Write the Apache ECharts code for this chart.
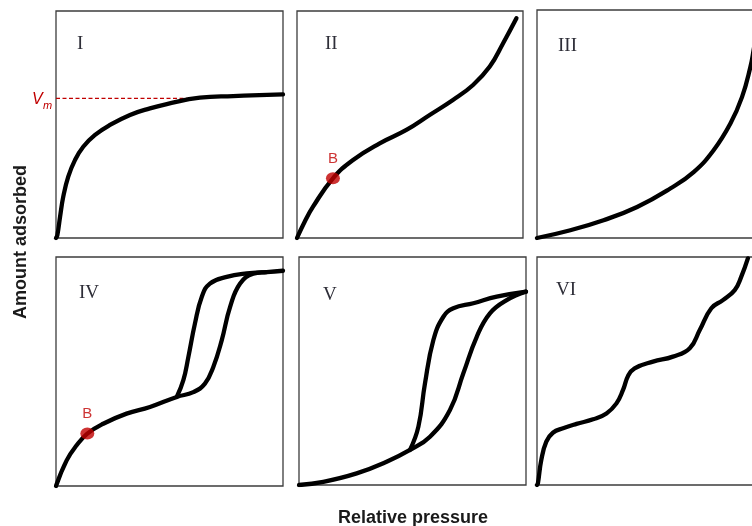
<!DOCTYPE html>
<html>
<head>
<meta charset="utf-8">
<script src="https://cdn.jsdelivr.net/npm/echarts@6/dist/echarts.min.js"></script>
<style>
  html, body { margin: 0; padding: 0; background: #fff; }
  #chart { width: 752px; height: 526px; }
</style>
</head>
<body>
<div id="chart"></div>
<script>
// isotherm shapes, relative pressure (x) vs amount adsorbed (y), both 0..1
const typeI = [[0,0],[0.006,0.013],[0.018,0.094],[0.032,0.182],[0.054,0.27],[0.084,0.344],[0.12,0.402],[0.172,0.454],[0.238,0.498],[0.326,0.542],[0.414,0.571],[0.488,0.59],[0.634,0.618],[0.78,0.625],[1,0.633]];
const typeII = [[0,0],[0.034,0.072],[0.071,0.138],[0.159,0.263],[0.248,0.344],[0.366,0.417],[0.484,0.476],[0.587,0.542],[0.69,0.608],[0.779,0.674],[0.853,0.755],[0.912,0.858],[0.971,0.968]];
const typeIII = [[0,0],[0.147,0.034],[0.293,0.078],[0.441,0.136],[0.587,0.217],[0.69,0.289],[0.778,0.385],[0.852,0.502],[0.903,0.618],[0.94,0.75],[0.954,0.823],[0.975,0.95]];
const typeIVads = [[0,0],[0.047,0.112],[0.091,0.178],[0.138,0.229],[0.208,0.272],[0.311,0.316],[0.414,0.345],[0.532,0.389],[0.605,0.41],[0.656,0.447],[0.693,0.52],[0.73,0.636],[0.767,0.782],[0.811,0.884],[0.869,0.927],[0.928,0.934],[1,0.94]];
const typeIVdes = [[0.532,0.389],[0.561,0.462],[0.583,0.563],[0.612,0.709],[0.642,0.825],[0.678,0.884],[0.752,0.913],[0.84,0.928],[0.928,0.934]];
const typeVads = [[0,0],[0.107,0.014],[0.254,0.051],[0.386,0.102],[0.489,0.154],[0.577,0.212],[0.665,0.329],[0.724,0.49],[0.783,0.65],[0.841,0.753],[0.915,0.811],[1,0.848]];
const typeVdes = [[0.489,0.154],[0.526,0.256],[0.555,0.446],[0.592,0.636],[0.636,0.738],[0.68,0.775],[0.768,0.797],[0.871,0.826],[1,0.848]];
const typeVI = [[0,0],[0.004,0.007],[0.019,0.11],[0.041,0.19],[0.07,0.229],[0.115,0.249],[0.174,0.268],[0.247,0.288],[0.306,0.314],[0.35,0.358],[0.379,0.417],[0.402,0.48],[0.43,0.512],[0.511,0.541],[0.599,0.563],[0.673,0.6],[0.717,0.68],[0.768,0.775],[0.819,0.811],[0.871,0.855],[0.9,0.914],[0.929,0.994]];
const pointB_II = [[0.159,0.263]];
const pointB_IV = [[0.138,0.229]];
const vmLevel = 0.615;
const vmLine = [[0,vmLevel],[0.598,vmLevel]];
const panelNames = ["I","II","III","IV","V","VI"];

const red = "#c00000";
const grids = [
  { left: 56, top: 11, width: 227, height: 227 },
  { left: 297, top: 11, width: 226, height: 227 },
  { left: 537, top: 10, width: 227, height: 228 },
  { left: 56, top: 257, width: 227, height: 229 },
  { left: 299, top: 257, width: 227, height: 228 },
  { left: 537, top: 257, width: 227, height: 228 },
].map(g => Object.assign(g, {
  show: true, borderColor: "#3c3c3c", borderWidth: 1.3, backgroundColor: "#fff",
  outerBoundsMode: "none", containLabel: false,
}));

const xAxes = grids.map((g, i) => ({ type: "value", gridIndex: i, min: 0, max: 1, show: false }));
const yAxes = grids.map((g, i) => ({ type: "value", gridIndex: i, min: 0, max: 1, show: false }));

function curve(data, i) {
  return {
    type: "line", xAxisIndex: i, yAxisIndex: i, data: data,
    smooth: 0.45, showSymbol: false, silent: true, animation: false,
    lineStyle: { color: "#000", width: 4.3, cap: "round", join: "round" },
    z: 3,
  };
}
function markB(data, i) {
  return {
    type: "scatter", xAxisIndex: i, yAxisIndex: i, data: data,
    symbol: "circle", symbolSize: [14, 12], animation: false,
    itemStyle: { color: red }, z: 5,
    label: { show: true, position: "top", distance: 6, formatter: "B", color: red, fontSize: 15, fontFamily: "Liberation Sans, Arial, sans-serif" },
  };
}

const series = [
  {
    type: "line", xAxisIndex: 0, yAxisIndex: 0, data: vmLine, showSymbol: false, animation: false, z: 2,
    lineStyle: { color: red, width: 1.2, type: [4, 2.5] },
  },
  curve(typeI, 0),
  curve(typeII, 1),
  curve(typeIII, 2),
  curve(typeIVads, 3),
  curve(typeIVdes, 3),
  curve(typeVads, 4),
  curve(typeVdes, 4),
  curve(typeVI, 5),
  markB(pointB_II, 1),
  markB(pointB_IV, 3),
];

const labelPos = [[77, 35], [325, 35], [558, 37], [79, 284], [323, 286], [556, 281]];
const serif = "Liberation Serif, Times New Roman, serif";
const graphic = panelNames.map((name, i) => ({
  type: "text", left: labelPos[i][0], top: labelPos[i][1], z: 10,
  style: { text: name, font: "19px " + serif, fill: "#2e2e38" },
}));
graphic.push(
  { type: "text", left: 32, top: 92, z: 10, style: { text: "V", font: "italic 16px Liberation Sans, Arial, sans-serif", fill: red } },
  { type: "text", left: 43, top: 100, z: 10, style: { text: "m", font: "italic 11px Liberation Sans, Arial, sans-serif", fill: red } },
  { type: "text", x: 21, y: 242, rotation: Math.PI / 2, z: 10,
    style: { text: "Amount adsorbed", font: "bold 18px Liberation Sans, Arial, sans-serif", fill: "#1a1a1a", align: "center", verticalAlign: "middle" } },
  { type: "text", x: 413, y: 518, z: 10,
    style: { text: "Relative pressure", font: "bold 18px Liberation Sans, Arial, sans-serif", fill: "#1a1a1a", align: "center", verticalAlign: "middle" } }
);

const chart = echarts.init(document.getElementById("chart"), null, { renderer: "canvas" });
chart.setOption({
  animation: false,
  grid: grids,
  xAxis: xAxes,
  yAxis: yAxes,
  series: series,
  graphic: graphic,
});
</script>
</body>
</html>
